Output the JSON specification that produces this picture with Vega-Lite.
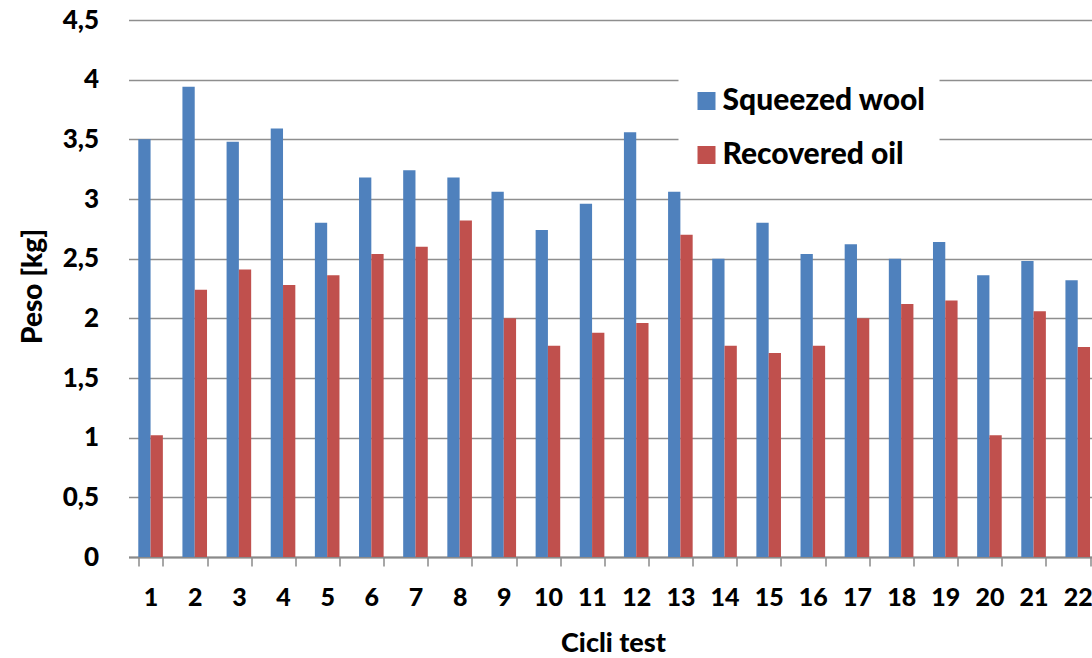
{
  "$schema": "https://vega.github.io/schema/vega-lite/v6.json",
  "width": 963.5,
  "height": 537,
  "autosize": {"type": "none"},
  "padding": {"left": 128.5, "top": 20, "right": 0, "bottom": 101},
  "background": "white",
  "config": {"view": {"stroke": null}, "font": "Lato"},
  "data": {
    "values": [
      {"ciclo": 1, "serie": "Squeezed wool", "peso": 3.50},
      {"ciclo": 2, "serie": "Squeezed wool", "peso": 3.94},
      {"ciclo": 3, "serie": "Squeezed wool", "peso": 3.48},
      {"ciclo": 4, "serie": "Squeezed wool", "peso": 3.59},
      {"ciclo": 5, "serie": "Squeezed wool", "peso": 2.80},
      {"ciclo": 6, "serie": "Squeezed wool", "peso": 3.18},
      {"ciclo": 7, "serie": "Squeezed wool", "peso": 3.24},
      {"ciclo": 8, "serie": "Squeezed wool", "peso": 3.18},
      {"ciclo": 9, "serie": "Squeezed wool", "peso": 3.06},
      {"ciclo": 10, "serie": "Squeezed wool", "peso": 2.74},
      {"ciclo": 11, "serie": "Squeezed wool", "peso": 2.96},
      {"ciclo": 12, "serie": "Squeezed wool", "peso": 3.56},
      {"ciclo": 13, "serie": "Squeezed wool", "peso": 3.06},
      {"ciclo": 14, "serie": "Squeezed wool", "peso": 2.50},
      {"ciclo": 15, "serie": "Squeezed wool", "peso": 2.80},
      {"ciclo": 16, "serie": "Squeezed wool", "peso": 2.54},
      {"ciclo": 17, "serie": "Squeezed wool", "peso": 2.62},
      {"ciclo": 18, "serie": "Squeezed wool", "peso": 2.50},
      {"ciclo": 19, "serie": "Squeezed wool", "peso": 2.64},
      {"ciclo": 20, "serie": "Squeezed wool", "peso": 2.36},
      {"ciclo": 21, "serie": "Squeezed wool", "peso": 2.48},
      {"ciclo": 22, "serie": "Squeezed wool", "peso": 2.32},
      {"ciclo": 1, "serie": "Recovered oil", "peso": 1.02},
      {"ciclo": 2, "serie": "Recovered oil", "peso": 2.24},
      {"ciclo": 3, "serie": "Recovered oil", "peso": 2.41},
      {"ciclo": 4, "serie": "Recovered oil", "peso": 2.28},
      {"ciclo": 5, "serie": "Recovered oil", "peso": 2.36},
      {"ciclo": 6, "serie": "Recovered oil", "peso": 2.54},
      {"ciclo": 7, "serie": "Recovered oil", "peso": 2.60},
      {"ciclo": 8, "serie": "Recovered oil", "peso": 2.82},
      {"ciclo": 9, "serie": "Recovered oil", "peso": 2.00},
      {"ciclo": 10, "serie": "Recovered oil", "peso": 1.77},
      {"ciclo": 11, "serie": "Recovered oil", "peso": 1.88},
      {"ciclo": 12, "serie": "Recovered oil", "peso": 1.96},
      {"ciclo": 13, "serie": "Recovered oil", "peso": 2.70},
      {"ciclo": 14, "serie": "Recovered oil", "peso": 1.77},
      {"ciclo": 15, "serie": "Recovered oil", "peso": 1.71},
      {"ciclo": 16, "serie": "Recovered oil", "peso": 1.77},
      {"ciclo": 17, "serie": "Recovered oil", "peso": 2.00},
      {"ciclo": 18, "serie": "Recovered oil", "peso": 2.12},
      {"ciclo": 19, "serie": "Recovered oil", "peso": 2.15},
      {"ciclo": 20, "serie": "Recovered oil", "peso": 1.02},
      {"ciclo": 21, "serie": "Recovered oil", "peso": 2.06},
      {"ciclo": 22, "serie": "Recovered oil", "peso": 1.76}
    ]
  },
  "mark": {"type": "bar"},
  "encoding": {
    "x": {
      "field": "ciclo",
      "type": "ordinal",
      "sort": "ascending",
      "scale": {"range": [0, 971.3], "paddingInner": 0.443, "paddingOuter": 0.2215},
      "axis": {
        "title": "Cicli test",
        "titleFont": "Lato",
        "titleFontSize": 27,
        "titleFontWeight": 900,
        "titleColor": "black",
        "titleX": 484.5,
        "titleY": 86,
        "titleBaseline": "middle",
        "titleAlign": "center",
        "labelAngle": 0,
        "labelFont": "Lato",
        "labelFontSize": 25,
        "labelFontWeight": 900,
        "labelColor": "black",
        "labelPadding": 19,
        "labelOverlap": false,
        "labelFlush": false,
        "tickBand": "extent",
        "tickSize": 9,
        "tickColor": "#8A8A8A",
        "tickWidth": 1.5,
        "domainColor": "#8A8A8A",
        "domainWidth": 2,
        "grid": false
      }
    },
    "xOffset": {
      "field": "serie",
      "type": "nominal",
      "sort": ["Squeezed wool", "Recovered oil"],
      "scale": {"paddingInner": 0, "paddingOuter": 0}
    },
    "y": {
      "field": "peso",
      "type": "quantitative",
      "scale": {"domain": [0, 4.5], "nice": false},
      "axis": {
        "title": "Peso [kg]",
        "titleFont": "Lato",
        "titleFontSize": 28,
        "titleFontWeight": 900,
        "titleColor": "black",
        "titleX": -95.5,
        "titleY": 266,
        "titleBaseline": "middle",
        "titleAlign": "center",
        "titleAngle": -90,
        "values": [0, 0.5, 1, 1.5, 2, 2.5, 3, 3.5, 4, 4.5],
        "labelExpr": "replace(toString(datum.value), '.', ',')",
        "labelFont": "Lato",
        "labelFontSize": 26,
        "labelFontWeight": 900,
        "labelColor": "black",
        "labelPadding": 30,
        "ticks": false,
        "domain": false,
        "grid": true,
        "gridColor": "#8E8E8E",
        "gridWidth": 1.5
      }
    },
    "color": {
      "field": "serie",
      "type": "nominal",
      "sort": ["Squeezed wool", "Recovered oil"],
      "scale": {"domain": ["Squeezed wool", "Recovered oil"], "range": ["#4F81BD", "#C0504D"]},
      "legend": {
        "title": null,
        "orient": "none",
        "legendX": 550,
        "legendY": 53,
        "fillColor": "white",
        "padding": 13,
        "symbolType": "square",
        "symbolSize": 324,
        "symbolStrokeWidth": 0,
        "labelFont": "Lato",
        "labelFontSize": 30,
        "labelFontWeight": 900,
        "labelColor": "black",
        "labelOffset": 1,
        "labelLimit": 400,
        "rowPadding": 24
      }
    }
  }
}
